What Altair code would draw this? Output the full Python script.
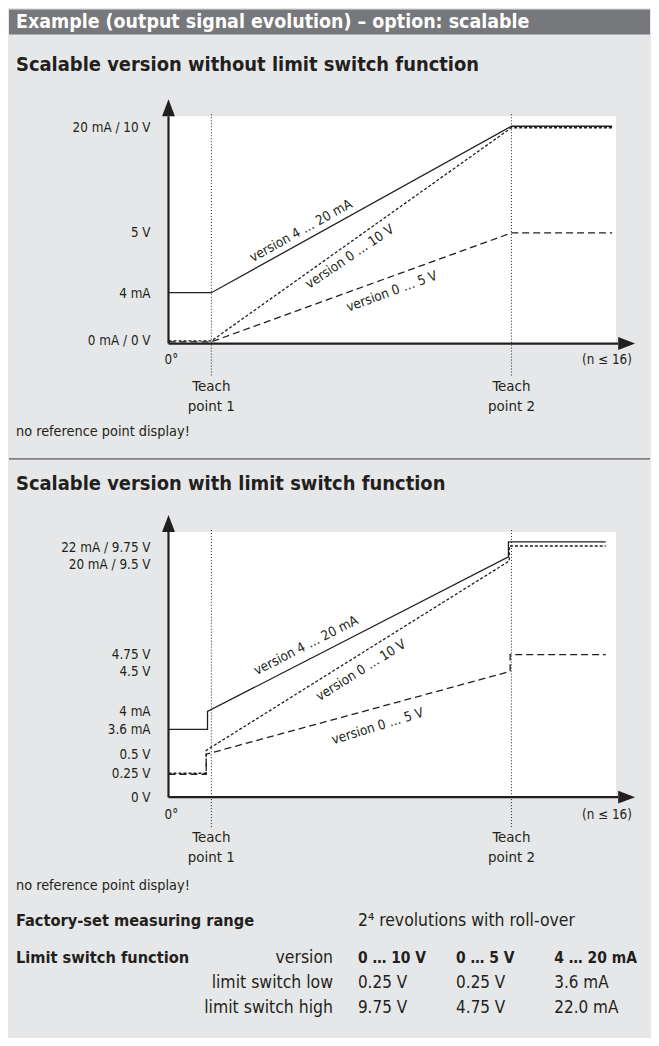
import altair as alt
import pandas as pd

W = 643
FONT = "DejaVu Sans Condensed, Liberation Sans Narrow, Arial Narrow, sans-serif"
INK = "#231f20"
PANEL = "#e6e7e8"
HEAD = "#77787b"

# ---------------- texts ----------------
header_title = "Example (output signal evolution) – option: scalable"
section_titles = ["Scalable version without limit switch function",
                  "Scalable version with limit switch function"]
note_text = "no reference point display!"
x_start_label = "0°"
x_end_label = "(n ≤ 16)"
teach_labels = ["Teach\npoint 1", "Teach\npoint 2"]
series_names = ["version 4 … 20 mA", "version 0 … 10 V", "version 0 … 5 V"]

# ---------------- rotation axis (teach points) ----------------
teach_x = [1.0, 8.0]

# ---------------- chart 1 (signal as fraction of full scale) ----------------
c1_x = [0.0, 1.0, 8.0, 10.35]
c1_420 = [0.234, 0.234, 1.0, 1.0]
c1_010 = [0.012, 0.012, 0.993, 0.993]
c1_05 = [0.008, 0.008, 0.509, 0.509]
c1_tick_vals = [0.99, 0.51, 0.23, 0.01]
c1_tick_labels = ["20 mA / 10 V", "5 V", "4 mA", "0 mA / 0 V"]
c1_lab_x = [3.09, 4.23, 5.21]
c1_lab_y = [0.518, 0.399, 0.239]
c1_lab_angle = [331, 326, 340]

# ---------------- chart 2 (signal as fraction of 20 mA level) ----------------
c2_x_420 = [0.0, 0.91, 0.91, 7.93, 7.93, 10.2]
c2_420 = [0.281, 0.281, 0.355, 0.996, 1.058, 1.058]
c2_x_010 = [0.0, 0.88, 0.88, 7.95, 7.95, 10.2]
c2_010 = [0.099, 0.099, 0.194, 0.979, 1.041, 1.041]
c2_x_05 = [0.0, 0.88, 0.88, 7.97, 7.97, 10.2]
c2_05 = [0.095, 0.095, 0.178, 0.521, 0.591, 0.591]
c2_tick_vals = [1.033, 0.963, 0.591, 0.517, 0.351, 0.277, 0.174, 0.095, -0.004]
c2_tick_labels = ["22 mA / 9.75 V", "20 mA / 9.5 V", "4.75 V", "4.5 V",
                  "4 mA", "3.6 mA", "0.5 V", "0.25 V", "0 V"]
c2_lab_x = [3.21, 4.49, 4.88]
c2_lab_y = [0.628, 0.525, 0.293]
c2_lab_angle = [333, 328, 343]

# ---------------- table ----------------
factory_label = "Factory-set measuring range"
factory_value = "2⁴ revolutions with roll-over"
limit_title = "Limit switch function"
table_row_labels = ["version", "limit switch low", "limit switch high"]
col_010 = ["0 … 10 V", "0.25 V", "9.75 V"]
col_05 = ["0 … 5 V", "0.25 V", "4.75 V"]
col_420 = ["4 … 20 mA", "3.6 mA", "22.0 mA"]

X_DOM = [-160 / 43, 483 / 43]
PLOT_RIGHT = 10.44
ARROW_BASE = 10.49
ARROW_TIP = 10.88
UP = "M0,-2L0.76,0L-0.76,0Z"
RIGHT = "M2,0L0,-0.76L0,0.76Z"

LAB = 13.4      # axis label size
SER = 13.5      # series label size
NOTE = 14.4
TITLE = 20


def section(title, series, ticks, tick_labels, lab_x, lab_y, lab_ang,
            height, y_dom, plot_top, teach_top, teach_bot, zero_y, teach_y,
            title_y, note_y, separator=False):
    xsc = alt.Scale(domain=X_DOM, nice=False, zero=False)
    ysc = alt.Scale(domain=y_dom, nice=False, zero=False)

    def X(f):
        return alt.X(f, scale=xsc, axis=None)

    def Y(f):
        return alt.Y(f, scale=ysc, axis=None)

    layers = []
    if separator:
        layers.append(alt.Chart(pd.DataFrame({"a": [0]})).mark_rule(
            color="#58595b", strokeWidth=1.3).encode(
            x=alt.value(0), x2=alt.value(W), y=alt.value(0.7)))
    # white plot panel
    layers.append(alt.Chart(pd.DataFrame({"x0": [0.0], "x1": [PLOT_RIGHT],
                                          "y0": [0.0], "y1": [plot_top]}))
                  .mark_rect(fill="white").encode(x=X("x0:Q"), x2="x1:Q",
                                                   y=Y("y0:Q"), y2="y1:Q"))
    # teach point dotted lines
    layers.append(alt.Chart(pd.DataFrame({"x": teach_x, "y0": [teach_bot] * 2,
                                          "y1": [teach_top] * 2}))
                  .mark_rule(color=INK, strokeWidth=1, strokeDash=[1, 2])
                  .encode(x=X("x:Q"), y=Y("y0:Q"), y2="y1:Q"))
    # series
    dashes = [None, [3, 2], [7, 4]]
    for (xs, ys), dash in zip(series, dashes):
        df = pd.DataFrame({"x": xs, "y": ys, "i": list(range(len(xs)))})
        kw = dict(color=INK, strokeWidth=1.3)
        if dash:
            kw["strokeDash"] = dash
        layers.append(alt.Chart(df).mark_line(**kw).encode(
            x=X("x:Q"), y=Y("y:Q"), order="i:Q"))
    # axes
    layers.append(alt.Chart(pd.DataFrame({"x": [0.0], "y0": [0.0], "y1": [plot_top]}))
                  .mark_rule(color=INK, strokeWidth=2.2)
                  .encode(x=X("x:Q"), y=Y("y0:Q"), y2="y1:Q"))
    layers.append(alt.Chart(pd.DataFrame({"x0": [0.0], "x1": [ARROW_BASE], "y": [0.0]}))
                  .mark_rule(color=INK, strokeWidth=2.2)
                  .encode(x=X("x0:Q"), x2="x1:Q", y=Y("y:Q")))
    layers.append(alt.Chart(pd.DataFrame({"x": [0.0], "y": [plot_top]}))
                  .mark_point(shape=UP, filled=True, size=289, color=INK,
                              opacity=1, strokeWidth=0)
                  .encode(x=X("x:Q"), y=Y("y:Q")))
    layers.append(alt.Chart(pd.DataFrame({"x": [ARROW_BASE], "y": [0.0]}))
                  .mark_point(shape=RIGHT, filled=True, size=289, color=INK,
                              opacity=1, strokeWidth=0)
                  .encode(x=X("x:Q"), y=Y("y:Q")))
    # y labels
    layers.append(alt.Chart(pd.DataFrame({"x": [0.0] * len(ticks), "v": ticks,
                                          "t": tick_labels}))
                  .mark_text(align="right", baseline="middle", dx=-18,
                             fontSize=LAB, color=INK)
                  .encode(x=X("x:Q"), y=Y("v:Q"), text="t:N"))
    # line labels
    layers.append(alt.Chart(pd.DataFrame({"x": lab_x, "y": lab_y, "a": lab_ang,
                                          "t": series_names}))
                  .mark_text(align="center", baseline="middle", fontSize=SER, color=INK)
                  .encode(x=X("x:Q"), y=Y("y:Q"), text="t:N",
                          angle=alt.Angle("a:Q", scale=None)))
    # x-axis end labels
    layers.append(alt.Chart(pd.DataFrame({"x": [0.0], "y": [zero_y], "t": [x_start_label]}))
                  .mark_text(align="left", baseline="middle", dx=-4, fontSize=LAB, color=INK)
                  .encode(x=X("x:Q"), y=Y("y:Q"), text="t:N"))
    layers.append(alt.Chart(pd.DataFrame({"x": [ARROW_TIP], "y": [zero_y], "t": [x_end_label]}))
                  .mark_text(align="right", baseline="middle", dx=-3, fontSize=LAB, color=INK)
                  .encode(x=X("x:Q"), y=Y("y:Q"), text="t:N"))
    # teach labels
    layers.append(alt.Chart(pd.DataFrame({"x": teach_x, "y": [teach_y] * 2, "t": teach_labels}))
                  .mark_text(align="center", baseline="top", lineBreak="\n",
                             lineHeight=20, fontSize=15, color=INK)
                  .encode(x=X("x:Q"), y=Y("y:Q"), text="t:N"))
    # section title and note
    layers.append(alt.Chart(pd.DataFrame({"t": [title]}))
                  .mark_text(align="left", baseline="middle", fontSize=TITLE,
                             fontWeight="bold", color=INK)
                  .encode(x=alt.value(7), y=alt.value(title_y), text="t:N"))
    layers.append(alt.Chart(pd.DataFrame({"t": [note_text]}))
                  .mark_text(align="left", baseline="middle", fontSize=NOTE, color=INK)
                  .encode(x=alt.value(7), y=alt.value(note_y), text="t:N"))
    return alt.layer(*layers).properties(width=W, height=height)


# header bar: page y 8 .. 33
HEAD_H = 25
header = alt.layer(
    alt.Chart(pd.DataFrame({"a": [0]})).mark_rect(color=HEAD).encode(
        x=alt.value(0), x2=alt.value(W), y=alt.value(0), y2=alt.value(HEAD_H)),
    alt.Chart(pd.DataFrame({"t": [header_title]})).mark_text(
        align="left", baseline="middle", fontSize=19.5, fontWeight="bold", color="white"
    ).encode(x=alt.value(7), y=alt.value(12.5), text="t:N"),
).properties(width=W, height=HEAD_H)

# section 1: page y 33 .. 458, axis at page 343
sec1 = section(section_titles[0],
               [(c1_x, c1_420), (c1_x, c1_010), (c1_x, c1_05)],
               c1_tick_vals, c1_tick_labels, c1_lab_x, c1_lab_y, c1_lab_angle,
               height=425, y_dom=[-115 / 218, 310 / 218], plot_top=1.0459,
               teach_top=1.06, teach_bot=-0.147, zero_y=-0.078, teach_y=-0.164,
               title_y=31, note_y=399)

# section 2: page y 458 .. 905, axis at page 798
sec2 = section(section_titles[1],
               [(c2_x_420, c2_420), (c2_x_010, c2_010), (c2_x_05, c2_05)],
               c2_tick_vals, c2_tick_labels, c2_lab_x, c2_lab_y, c2_lab_angle,
               height=447, y_dom=[-107 / 242, 340 / 242], plot_top=1.0992,
               teach_top=1.112, teach_bot=-0.124, zero_y=-0.0744, teach_y=-0.1355,
               title_y=26, note_y=429, separator=True)

# table: page y 905 .. 1038
rows = []
for r in range(3):
    for c, col in enumerate([col_010, col_05, col_420]):
        rows.append({"r": r, "c": c, "t": col[r]})
tab_df = pd.DataFrame(rows)
lab_df = pd.DataFrame({"r": [0, 1, 2], "t": table_row_labels})
ty = alt.Scale(domain=[0, 2], range=[54, 105])
tx = alt.Scale(domain=[0, 2], range=[350, 547])

table = alt.layer(
    alt.Chart(pd.DataFrame({"t": [factory_label]})).mark_text(
        align="left", baseline="middle", fontSize=16.3, fontWeight="bold", color=INK
    ).encode(x=alt.value(7), y=alt.value(17), text="t:N"),
    alt.Chart(pd.DataFrame({"t": [factory_value]})).mark_text(
        align="left", baseline="middle", fontSize=17.5, color=INK
    ).encode(x=alt.value(350), y=alt.value(17), text="t:N"),
    alt.Chart(pd.DataFrame({"t": [limit_title]})).mark_text(
        align="left", baseline="middle", fontSize=16.3, fontWeight="bold", color=INK
    ).encode(x=alt.value(7), y=alt.value(54), text="t:N"),
    alt.Chart(lab_df).mark_text(
        align="right", baseline="middle", fontSize=17.5, color=INK
    ).encode(x=alt.value(325), y=alt.Y("r:Q", scale=ty, axis=None), text="t:N"),
    alt.Chart(tab_df).transform_filter("datum.r == 0").mark_text(
        align="left", baseline="middle", fontSize=15.5, fontWeight="bold", color=INK
    ).encode(x=alt.X("c:Q", scale=tx, axis=None), y=alt.Y("r:Q", scale=ty, axis=None),
             text="t:N"),
    alt.Chart(tab_df).transform_filter("datum.r > 0").mark_text(
        align="left", baseline="middle", fontSize=17, color=INK
    ).encode(x=alt.X("c:Q", scale=tx, axis=None), y=alt.Y("r:Q", scale=ty, axis=None),
             text="t:N"),
).properties(width=W, height=133)

chart = alt.vconcat(header, sec1, sec2, table, spacing=0, padding=0,
                    bounds="flush").configure(
    background=PANEL, font=FONT
).configure_view(stroke=None).configure_concat(spacing=0)

chart.save("out.html", embed_options={"renderer": "svg", "actions": False})
